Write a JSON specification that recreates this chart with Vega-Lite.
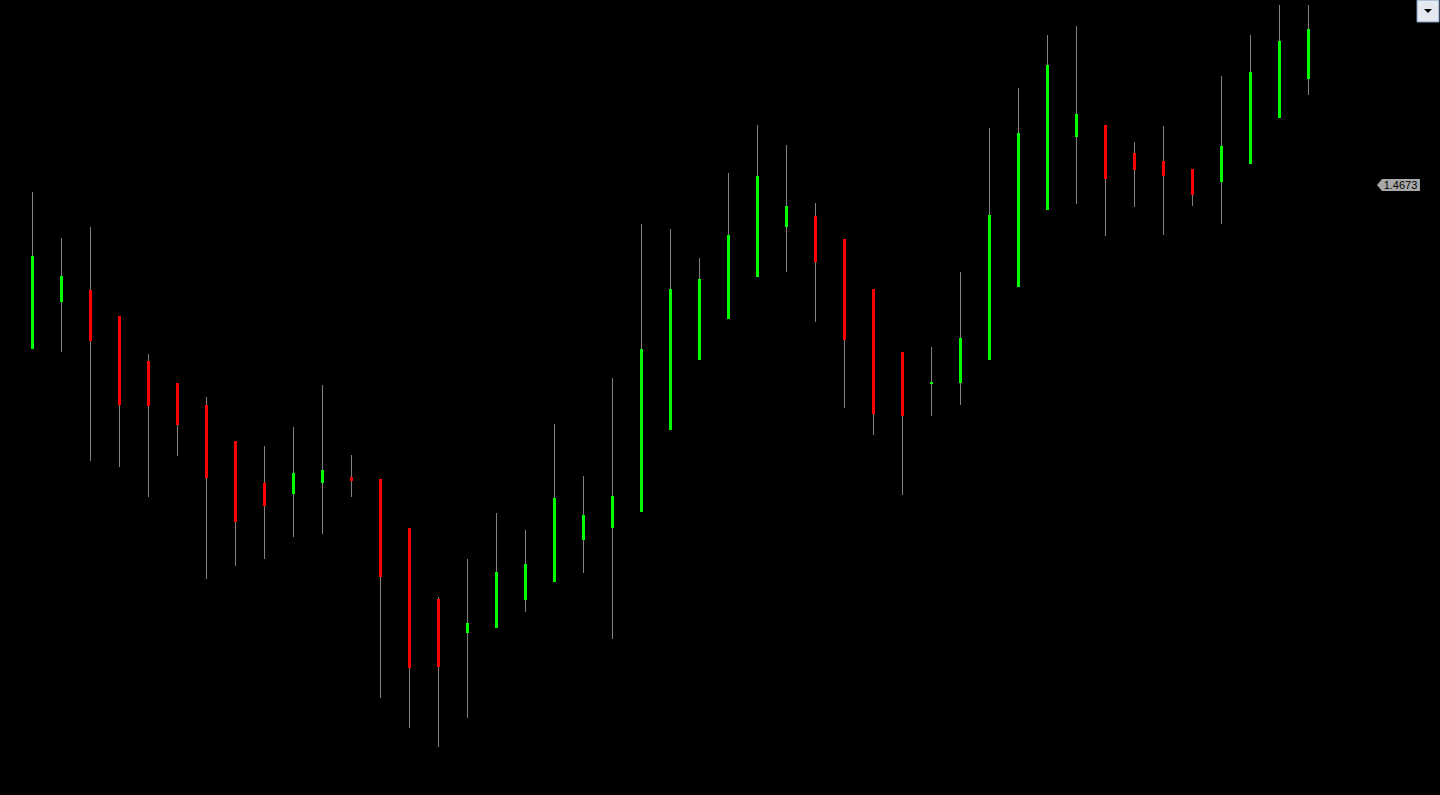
{
  "$schema": "https://vega.github.io/schema/vega-lite/v6.json",
  "width": 1440,
  "height": 795,
  "autosize": {"type": "none"},
  "padding": 0,
  "background": "#000000",
  "config": {"view": {"stroke": null}},
  "datasets": {
    "candles": [
      {"i": 0, "o": 1.4509, "h": 1.4666, "l": 1.4509, "c": 1.4602, "dir": "up"},
      {"i": 1, "o": 1.4556, "h": 1.4620, "l": 1.4506, "c": 1.4582, "dir": "up"},
      {"i": 2, "o": 1.4568, "h": 1.4631, "l": 1.4397, "c": 1.4517, "dir": "down"},
      {"i": 3, "o": 1.4542, "h": 1.4542, "l": 1.4391, "c": 1.4453, "dir": "down"},
      {"i": 4, "o": 1.4497, "h": 1.4504, "l": 1.4361, "c": 1.4452, "dir": "down"},
      {"i": 5, "o": 1.4475, "h": 1.4475, "l": 1.4402, "c": 1.4433, "dir": "down"},
      {"i": 6, "o": 1.4453, "h": 1.4461, "l": 1.4279, "c": 1.4380, "dir": "down"},
      {"i": 7, "o": 1.4417, "h": 1.4417, "l": 1.4292, "c": 1.4336, "dir": "down"},
      {"i": 8, "o": 1.4375, "h": 1.4412, "l": 1.4299, "c": 1.4352, "dir": "down"},
      {"i": 9, "o": 1.4364, "h": 1.4431, "l": 1.4321, "c": 1.4385, "dir": "up"},
      {"i": 10, "o": 1.4375, "h": 1.4473, "l": 1.4324, "c": 1.4388, "dir": "up"},
      {"i": 11, "o": 1.4381, "h": 1.4403, "l": 1.4361, "c": 1.4377, "dir": "down"},
      {"i": 12, "o": 1.4379, "h": 1.4379, "l": 1.4160, "c": 1.4281, "dir": "down"},
      {"i": 13, "o": 1.4330, "h": 1.4330, "l": 1.4130, "c": 1.4190, "dir": "down"},
      {"i": 14, "o": 1.4259, "h": 1.4261, "l": 1.4111, "c": 1.4191, "dir": "down"},
      {"i": 15, "o": 1.4225, "h": 1.4299, "l": 1.4140, "c": 1.4235, "dir": "up"},
      {"i": 16, "o": 1.4230, "h": 1.4345, "l": 1.4230, "c": 1.4286, "dir": "up"},
      {"i": 17, "o": 1.4258, "h": 1.4328, "l": 1.4246, "c": 1.4294, "dir": "up"},
      {"i": 18, "o": 1.4276, "h": 1.4434, "l": 1.4276, "c": 1.4360, "dir": "up"},
      {"i": 19, "o": 1.4318, "h": 1.4382, "l": 1.4285, "c": 1.4343, "dir": "up"},
      {"i": 20, "o": 1.4330, "h": 1.4480, "l": 1.4219, "c": 1.4362, "dir": "up"},
      {"i": 21, "o": 1.4346, "h": 1.4634, "l": 1.4346, "c": 1.4509, "dir": "up"},
      {"i": 22, "o": 1.4428, "h": 1.4629, "l": 1.4428, "c": 1.4569, "dir": "up"},
      {"i": 23, "o": 1.4498, "h": 1.4600, "l": 1.4498, "c": 1.4579, "dir": "up"},
      {"i": 24, "o": 1.4539, "h": 1.4685, "l": 1.4539, "c": 1.4623, "dir": "up"},
      {"i": 25, "o": 1.4581, "h": 1.4733, "l": 1.4581, "c": 1.4682, "dir": "up"},
      {"i": 26, "o": 1.4631, "h": 1.4713, "l": 1.4586, "c": 1.4652, "dir": "up"},
      {"i": 27, "o": 1.4642, "h": 1.4655, "l": 1.4536, "c": 1.4596, "dir": "down"},
      {"i": 28, "o": 1.4619, "h": 1.4619, "l": 1.4450, "c": 1.4518, "dir": "down"},
      {"i": 29, "o": 1.4569, "h": 1.4569, "l": 1.4423, "c": 1.4444, "dir": "down"},
      {"i": 30, "o": 1.4506, "h": 1.4506, "l": 1.4363, "c": 1.4442, "dir": "down"},
      {"i": 31, "o": 1.4474, "h": 1.4511, "l": 1.4442, "c": 1.4476, "dir": "up"},
      {"i": 32, "o": 1.4475, "h": 1.4586, "l": 1.4453, "c": 1.4520, "dir": "up"},
      {"i": 33, "o": 1.4498, "h": 1.4730, "l": 1.4498, "c": 1.4643, "dir": "up"},
      {"i": 34, "o": 1.4571, "h": 1.4770, "l": 1.4571, "c": 1.4725, "dir": "up"},
      {"i": 35, "o": 1.4648, "h": 1.4823, "l": 1.4648, "c": 1.4793, "dir": "up"},
      {"i": 36, "o": 1.4721, "h": 1.4832, "l": 1.4654, "c": 1.4744, "dir": "up"},
      {"i": 37, "o": 1.4733, "h": 1.4733, "l": 1.4622, "c": 1.4679, "dir": "down"},
      {"i": 38, "o": 1.4705, "h": 1.4716, "l": 1.4651, "c": 1.4688, "dir": "down"},
      {"i": 39, "o": 1.4697, "h": 1.4732, "l": 1.4623, "c": 1.4682, "dir": "down"},
      {"i": 40, "o": 1.4689, "h": 1.4689, "l": 1.4652, "c": 1.4663, "dir": "down"},
      {"i": 41, "o": 1.4676, "h": 1.4782, "l": 1.4634, "c": 1.4712, "dir": "up"},
      {"i": 42, "o": 1.4694, "h": 1.4823, "l": 1.4694, "c": 1.4786, "dir": "up"},
      {"i": 43, "o": 1.4740, "h": 1.4853, "l": 1.4740, "c": 1.4817, "dir": "up"},
      {"i": 44, "o": 1.4779, "h": 1.4853, "l": 1.4763, "c": 1.4829, "dir": "up"}
    ],
    "marker": [
      {"i": 47.103, "price": 1.4673, "label": "1.4673"}
    ],
    "button": [
      {"i": 48.121, "price": 1.4847}
    ]
  },
  "layer": [
    {
      "data": {"name": "candles"},
      "mark": {"type": "rule", "color": "#808080", "strokeWidth": 1},
      "encoding": {
        "x": {"field": "i", "type": "quantitative", "axis": null, "scale": {"domain": [-1.12069, 48.53448], "nice": false, "zero": false, "padding": 0}},
        "y": {"field": "h", "type": "quantitative", "axis": null, "scale": {"domain": [1.4063, 1.4858], "nice": false, "zero": false, "padding": 0}},
        "y2": {"field": "l"}
      }
    },
    {
      "data": {"name": "candles"},
      "mark": {"type": "bar", "width": 3},
      "encoding": {
        "x": {"field": "i", "type": "quantitative"},
        "y": {"field": "o", "type": "quantitative"},
        "y2": {"field": "c"},
        "color": {"field": "dir", "type": "nominal", "legend": null, "scale": {"domain": ["up", "down"], "range": ["#00ff00", "#ff0000"]}}
      }
    },
    {
      "data": {"name": "marker"},
      "mark": {"type": "point", "filled": true, "opacity": 1, "color": "#a8a8a8", "size": 144, "shape": "M -3.58 0 L -2.75 -1 L 3.58 -1 L 3.58 1 L -2.75 1 Z"},
      "encoding": {
        "x": {"field": "i", "type": "quantitative"},
        "y": {"field": "price", "type": "quantitative"}
      }
    },
    {
      "data": {"name": "marker"},
      "mark": {"type": "text", "color": "#000000", "font": "Liberation Sans", "fontSize": 11, "align": "center", "baseline": "middle", "dx": 2, "dy": 0.5},
      "encoding": {
        "x": {"field": "i", "type": "quantitative"},
        "y": {"field": "price", "type": "quantitative"},
        "text": {"field": "label"}
      }
    },
    {
      "data": {"name": "button"},
      "mark": {"type": "point", "shape": "square", "filled": true, "opacity": 1, "color": "#e4e9f1", "stroke": "#7a96bd", "strokeWidth": 1, "strokeOpacity": 1, "size": 484},
      "encoding": {
        "x": {"field": "i", "type": "quantitative"},
        "y": {"field": "price", "type": "quantitative"}
      }
    },
    {
      "data": {"name": "button"},
      "mark": {"type": "point", "shape": "M -1 -0.5 L 1 -0.5 L 0 0.5 Z", "filled": true, "opacity": 1, "color": "#000000", "size": 64},
      "encoding": {
        "x": {"field": "i", "type": "quantitative"},
        "y": {"field": "price", "type": "quantitative"}
      }
    }
  ]
}
